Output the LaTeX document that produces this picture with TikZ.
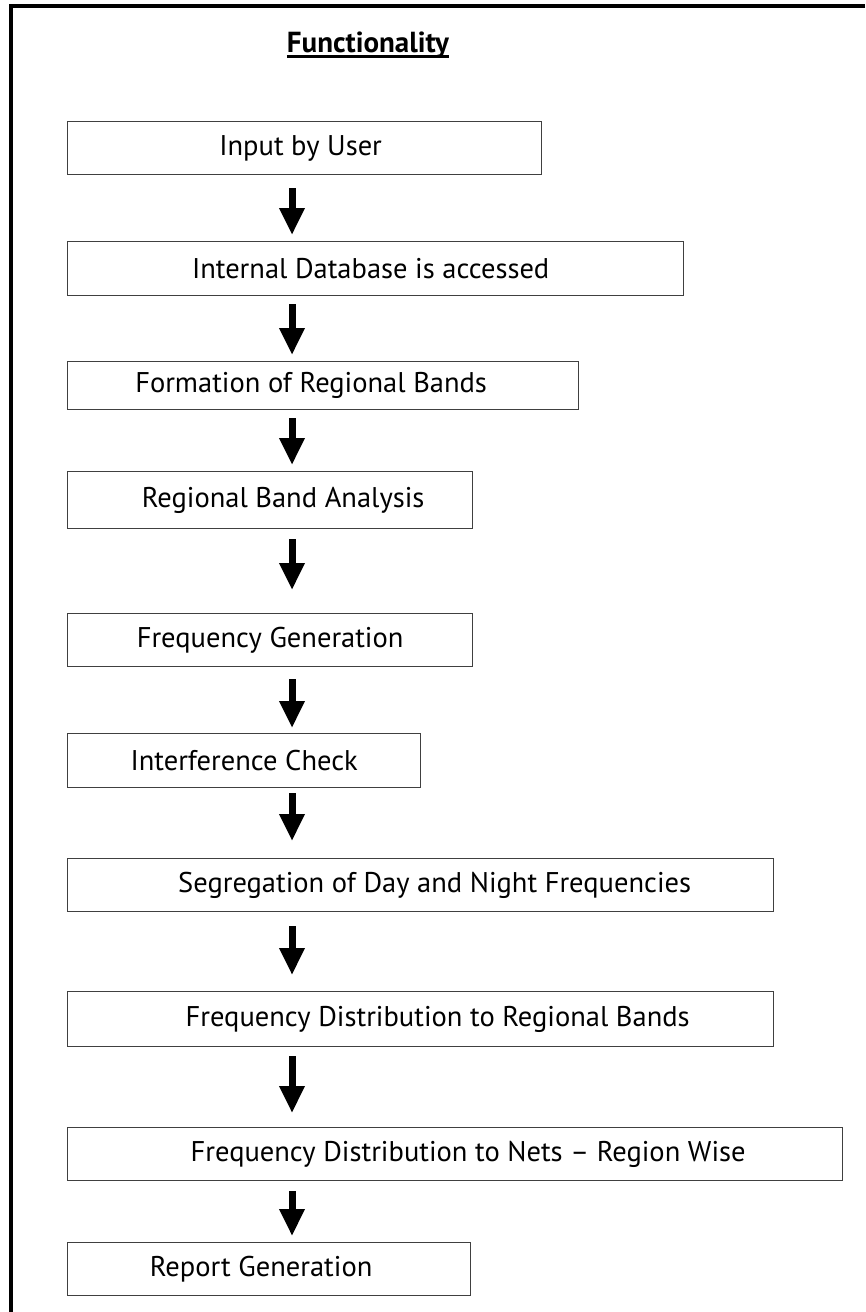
\documentclass[tikz,border=0pt]{standalone}
\usepackage{fontspec}
\setmainfont{PT Sans}
\usetikzlibrary{arrows.meta}
\tikzset{
  stepbox/.style={draw=black!75, line width=1.3pt, rectangle, inner sep=0pt,
    anchor=north west, font=\fontsize{28.5}{32}\selectfont, text=black},
  fatarrow/.style={line width=7pt, -{Triangle[width=24pt,length=27pt]}},
  frame/.style={line width=3.5pt}
}
% box: name, left, top, right, bottom, text shift, text
\newcommand{\flowbox}[7]{%
  \node[stepbox, minimum width=#4pt-#2pt, minimum height=#5pt-#3pt] (#1) at (#2,#3)
    {\hspace*{#6pt}\hspace*{#6pt}#7};}
% arrow between two boxes: upper, lower, gap below upper, gap above lower
\newcommand{\flowarrow}[4]{%
  \draw[fatarrow] ([yshift=-#3pt]#1.south -| ax) -- ([yshift=#4pt]#2.north -| ax);}
\begin{document}
\begin{tikzpicture}[x=1pt,y=-1pt]
  \useasboundingbox (0,0) rectangle (865,1312);
  % outer frame (top and left sides)
  \coordinate (fr1) at (865,6);
  \coordinate (fr2) at (11,6);
  \coordinate (fr3) at (11,1312);
  \draw[frame] (fr1) -- (fr2) -- (fr3);
  % title
  \node[inner sep=0pt, anchor=base, font=\bfseries\fontsize{29}{32}\selectfont] (title) at (368,52) {Functionality};
  \draw[line width=3pt] ([yshift=-4pt]title.base west) -- ([yshift=-4pt]title.base east);
  % column of the arrows
  \coordinate (ax) at (292,0);
  % steps
  \flowbox{b1}{67}{121}{541}{174}{-4}{Input by User}
  \flowbox{b2}{67}{241}{683}{295}{-5}{Internal Database is accessed}
  \flowbox{b3}{67}{361}{578}{409}{-12}{Formation of Regional Bands}
  \flowbox{b4}{67}{471}{472}{528}{13}{Regional Band Analysis}
  \flowbox{b5}{67}{613}{472}{666}{0}{Frequency Generation}
  \flowbox{b6}{67}{733}{420}{787}{0}{Interference Check}
  \flowbox{b7}{67}{858}{773}{911}{14}{Segregation of Day and Night Frequencies}
  \flowbox{b8}{67}{991}{773}{1046}{17}{Frequency Distribution to Regional Bands}
  \flowbox{b9}{67}{1127}{842}{1180}{13}{Frequency Distribution to Nets – Region Wise}
  \flowbox{b10}{67}{1242}{470}{1295}{-8}{Report Generation}
  % arrows
  \flowarrow{b1}{b2}{13}{6}
  \flowarrow{b2}{b3}{8}{6}
  \flowarrow{b3}{b4}{8}{6}
  \flowarrow{b4}{b5}{10}{23}
  \flowarrow{b5}{b6}{12}{5}
  \flowarrow{b6}{b7}{5}{17}
  \flowarrow{b7}{b8}{14}{16}
  \flowarrow{b8}{b9}{9}{14}
  \flowarrow{b9}{b10}{10}{6}
\end{tikzpicture}
\end{document}
